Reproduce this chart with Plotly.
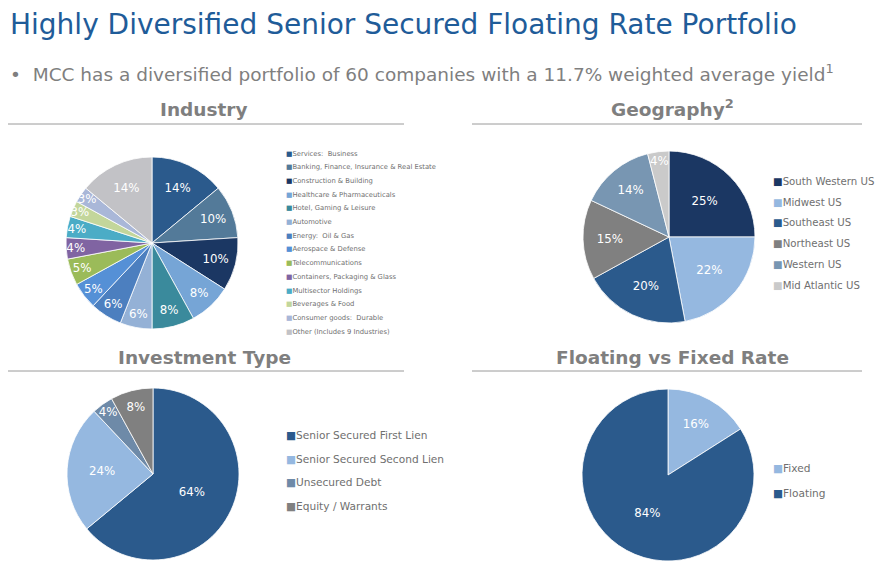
import plotly.graph_objects as go

W, H = 874, 557   # page adds an 8px body margin
OFF = 8

ind_labels = ["Services:  Business", "Banking, Finance, Insurance & Real Estate", "Construction & Building",
              "Healthcare & Pharmaceuticals", "Hotel, Gaming & Leisure", "Automotive", "Energy:  Oil & Gas",
              "Aerospace & Defense", "Telecommunications", "Containers, Packaging & Glass", "Multisector Holdings",
              "Beverages & Food", "Consumer goods:  Durable", "Other (Includes 9 Industries)"]
ind_values = [14, 10, 10, 8, 8, 6, 6, 5, 5, 4, 4, 3, 3, 14]
ind_colors = ["#2B5A8C", "#537A99", "#1B3763", "#76A5D6", "#3A8A9C", "#94B1D6", "#4C7FBF",
              "#5590D6", "#9BBB59", "#8064A2", "#4BACC6", "#C3D69B", "#A9B7D8", "#C2C2C6"]

geo_labels = ["South Western US", "Midwest US", "Southeast US", "Northeast US", "Western US", "Mid Atlantic US"]
geo_values = [25, 22, 20, 15, 14, 4]
geo_colors = ["#1B3763", "#95B8E0", "#2B5A8C", "#808080", "#7896B2", "#CACACA"]

inv_labels = ["Senior Secured First Lien", "Senior Secured Second Lien", "Unsecured Debt", "Equity / Warrants"]
inv_values = [64, 24, 4, 8]
inv_colors = ["#2B5A8C", "#95B8E0", "#6E8AA8", "#808080"]

fl_labels = ["Fixed", "Floating"]
fl_values = [16, 84]
fl_colors = ["#95B8E0", "#2B5A8C"]


def px(x):
    return (x - OFF) / W


def py(y):
    return 1 - (y - OFF) / H


def clamp(v):
    return min(1, max(0, v))


def dom(cx, cy, r):
    return dict(x=[clamp(px(cx - r)), clamp(px(cx + r))], y=[clamp(py(cy + r)), clamp(py(cy - r))])


fig = go.Figure()
annotations = []

def add_pie(labels, values, colors, cx, cy, r, lx, ly, step, fsize, tsize=12):
    fig.add_trace(go.Pie(labels=labels, values=values, sort=False, direction="clockwise", rotation=0,
                         marker=dict(colors=colors, line=dict(color="white", width=0.8)),
                         texttemplate="%{value}%", textposition="inside", insidetextorientation="horizontal",
                         textfont=dict(color="white", size=tsize, family="DejaVu Sans"),
                         domain=dom(cx, cy, r), showlegend=False, hoverinfo="label+percent"))
    for i, (lab, c) in enumerate(zip(labels, colors)):
        annotations.append(dict(
            text=f"<span style='color:{c}'>■</span>{lab}", x=px(lx), y=py(ly + i * step),
            xanchor="left", yanchor="middle", showarrow=False,
            font=dict(size=fsize, color="#6F6F6F", family="DejaVu Sans")))

add_pie(ind_labels, ind_values, ind_colors, 152, 243, 86, 284, 153.5, 13.7, 6.8)
add_pie(geo_labels, geo_values, geo_colors, 669, 237, 86, 771, 181.5, 20.7, 10.2)
add_pie(inv_labels, inv_values, inv_colors, 153, 474, 86, 284, 435, 23.7, 10.6)
add_pie(fl_labels, fl_values, fl_colors, 668, 475, 86, 771, 468, 24.5, 10.6)

annotations += [
    dict(text="Highly Diversified Senior Secured Floating Rate Portfolio", x=0, y=1,
         xanchor="left", yanchor="top", showarrow=False, yshift=2,
         font=dict(size=28, color="#1F5C99", family="DejaVu Sans")),
    dict(text="•  MCC has a diversified portfolio of 60 companies with a 11.7% weighted average yield<sup>1</sup>",
         x=0, y=py(73), xanchor="left", yanchor="middle", showarrow=False,
         font=dict(size=18.5, color="#7F7F7F", family="DejaVu Sans")),
]
for t, cx, cy in [("Industry", 204, 110), ("Geography<sup>2</sup>", 672, 108),
                  ("Investment Type", 204, 357), ("Floating vs Fixed Rate", 672, 357)]:
    annotations.append(dict(text="<b>" + t + "</b>", x=px(cx), y=py(cy), xanchor="center", yanchor="middle",
                            showarrow=False, font=dict(size=18.5, color="#7F7F7F", family="DejaVu Sans")))

shapes = []
for x0, x1, y in [(8, 404, 124), (472, 862, 124), (8, 404, 371), (472, 862, 371)]:
    shapes.append(dict(type="line", xref="paper", yref="paper", x0=px(x0), x1=px(x1), y0=py(y), y1=py(y),
                       line=dict(color="#9A9A9A", width=1)))

fig.update_layout(
    width=W, height=H, margin=dict(l=0, r=0, t=0, b=0, autoexpand=False), paper_bgcolor="white",
    plot_bgcolor="white", annotations=annotations, shapes=shapes,
    uniformtext=dict(minsize=11, mode="show"), showlegend=False,
)
fig.write_html("out.html")
